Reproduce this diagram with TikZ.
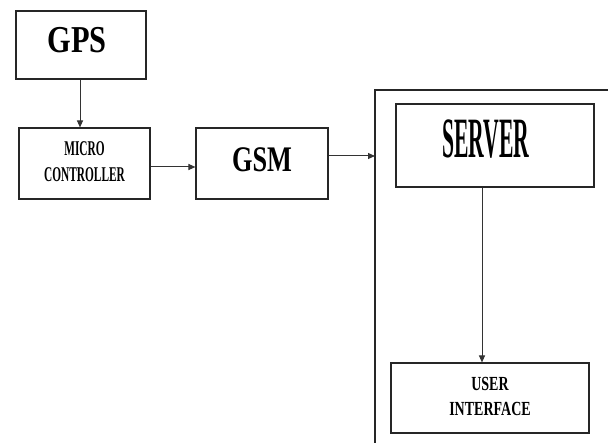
\documentclass[tikz,border=0pt]{standalone}
\usepackage{fontspec}
\setmainfont{Liberation Serif}
\usetikzlibrary{arrows.meta}
\tikzset{
  blk/.style={draw=black!85, line width=1.1pt, inner sep=0pt, align=center},
  link/.style={draw=black!80, line width=1pt, -{Triangle[length=7pt,width=6pt]}},
}
% condensed bold label: #1 = horizontal squeeze, #2 = size, #3 = baseline skip, #4 = text
\newcommand{\narrow}[4]{\scalebox{#1}[1]{\fontsize{#2}{#3}\selectfont\bfseries\begin{tabular}{@{}c@{}}#4\end{tabular}}}
\begin{document}
\begin{tikzpicture}[x=1pt,y=-1pt]
  \useasboundingbox (0,0) rectangle (608,443);
  % blocks
  \node[blk, minimum width=130pt, minimum height=68pt] (gps) at (81,45) {\hspace*{-8pt}\narrow{0.8}{38}{40}{GPS}};
  \node[blk, minimum width=131pt, minimum height=71pt] (mcu) at (84.5,163.5) {\narrow{0.54}{21}{26}{MICRO\\CONTROLLER}};
  \node[blk, minimum width=132pt, minimum height=71pt] (gsm) at (262,163.5) {\raisebox{-4pt}{\narrow{0.73}{36}{38}{GSM}}};
  % server enclosure (open to the right and bottom)
  \coordinate (encl) at (375,90);
  \draw[black!85, line width=1.1pt] (375,443) -- (encl) -- (608,90);
  \node[blk, minimum width=198pt, minimum height=83pt] (srv) at (495,145.5) {\hspace*{-18pt}\narrow{0.38}{57}{60}{SERVER}};
  \node[blk, minimum width=198pt, minimum height=70pt] (ui) at (490,398) {\narrow{0.7}{20}{25}{USER\\INTERFACE}};
  % connectors
  \draw[link] (gps.south -| 80,0) -- (mcu.north -| 80,0);
  \draw[link] (mcu.east |- 0,167) -- (gsm.west |- 0,167);
  \draw[link] (gsm.east |- 0,156) -- (encl |- 0,156);
  \draw[link] (srv.south -| 482,0) -- (ui.north -| 482,0);
\end{tikzpicture}
\end{document}
